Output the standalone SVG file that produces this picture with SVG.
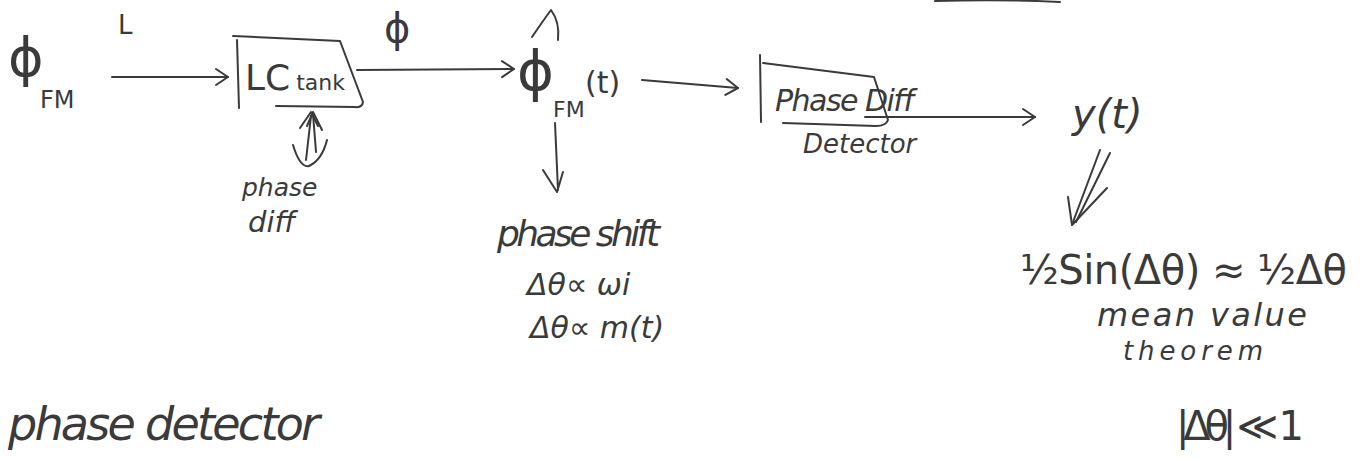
<svg xmlns="http://www.w3.org/2000/svg" width="1368" height="459" viewBox="0 0 1368 459">
  <defs>
    <style>
      .ink { fill: none; stroke: #3a3a3a; stroke-width: 2; stroke-linecap: round; stroke-linejoin: round; }
      .txt { fill: #3a3a3a; font-family: "DejaVu Sans", "Liberation Sans", sans-serif; }
      .it  { font-style: italic; }
    </style>
    <marker id="head" viewBox="-14 -10 16 20" markerWidth="16" markerHeight="20" refX="0" refY="0" orient="auto" markerUnits="userSpaceOnUse">
      <path d="M-12,-8 L0,0 L-12,8" fill="none" stroke="#3a3a3a" stroke-width="2" stroke-linecap="round" stroke-linejoin="round"/>
    </marker>
  </defs>

  <rect width="1368" height="459" fill="#ffffff"/>

  <!-- page edge mark at top -->
  <path class="ink" d="M935,1 Q1000,-1 1060,2" stroke-width="3" stroke="#555"/>

  <!-- input signal -->
  <g id="phi-fm-in">
    <text class="txt" x="8" y="76" font-size="54">ϕ</text>
    <text class="txt" x="40" y="108" font-size="24">FM</text>
  </g>

  <!-- LC tank block -->
  <g id="lc-tank">
    <path class="ink" d="M237,40 L239,108"/>
    <path class="ink" d="M233,36 L340,41 L363,102 Q362,108 355,107 L276,106"/>
    <text class="txt" x="245" y="90"><tspan font-size="36">LC</tspan><tspan font-size="22" dx="6">tank</tspan></text>
  </g>

  <!-- phase difference annotation under LC tank -->
  <g id="phase-diff-note">
    <path class="ink" d="M306,160 L311,116 M300,128 L311,112 L318,126"/>
    <path class="ink" d="M316,152 L313,114 M307,126 L313,112 L322,130"/>
    <path class="ink" d="M293,145 Q300,168 309,166 Q322,160 327,140"/>
    <text class="txt it" x="242" y="196" font-size="25">phase</text>
    <text class="txt it" x="248" y="232" font-size="29">diff</text>
  </g>

  <!-- FM phase at tank output -->
  <g id="phi-fm-t">
    <path class="ink" d="M532,37 Q545,18 551,10 Q560,22 558,40"/>
    <text class="txt" x="517" y="90" font-size="56">ϕ</text>
    <text class="txt" x="553" y="117" font-size="22">FM</text>
    <text class="txt" x="585" y="93" font-size="30">(t)</text>
  </g>

  <!-- phase shift notes -->
  <g id="phase-shift-note">
    <text class="txt it" x="497" y="246" font-size="36" textLength="163">phase shift</text>
    <text class="txt it" x="527" y="295" font-size="30">Δθ∝ ωi</text>
    <text class="txt it" x="530" y="338" font-size="30">Δθ∝ m(t)</text>
  </g>

  <!-- phase difference detector block -->
  <g id="phase-diff-detector">
    <path class="ink" d="M760,55 L761,122"/>
    <path class="ink" d="M763,63 L874,77 L888,120 Q886,126 876,126 L783,123"/>
    <text class="txt it" x="775" y="111" font-size="30" textLength="140">Phase Diff</text>
    <text class="txt it" x="803" y="153" font-size="26">Detector</text>
  </g>

  <!-- detector output -->
  <g id="y-t">
    <text class="txt it" x="1072" y="128" font-size="40">y(t)</text>
  </g>

  <!-- result and conditions -->
  <g id="result">
    <text class="txt" x="1020" y="284" font-size="40" textLength="327">½Sin(Δθ) ≈ ½Δθ</text>
    <text class="txt it" x="1097" y="326" font-size="32" textLength="210">mean value</text>
    <text class="txt it" x="1123" y="360" font-size="26" textLength="140">theorem</text>
    <text class="txt" x="1176" y="440" font-size="40" textLength="128">|Δθ| ≪ 1</text>
  </g>

  <!-- footer title -->
  <g id="title">
    <text class="txt it" x="8" y="440" font-size="46" textLength="312">phase detector</text>
  </g>

  <!-- connectors -->
  <g id="connectors">
    <text class="txt" x="118" y="34" font-size="26">L</text>
    <text class="txt" x="384" y="42" font-size="40">ϕ</text>
    <path class="ink" d="M112,77 L228,77" marker-end="url(#head)"/>
    <path class="ink" d="M357,70 L514,69" marker-end="url(#head)"/>
    <path class="ink" d="M642,80 L738,88" marker-end="url(#head)"/>
    <path class="ink" d="M865,117 L1035,117" marker-end="url(#head)"/>
    <path class="ink" d="M555,123 L558,190 M543,170 L557,192 L563,172"/>
    <path class="ink" d="M1100,150 L1073,222 M1110,153 L1076,222"/>
    <path class="ink" d="M1068,197 L1072,225 L1107,188"/>
  </g>
</svg>
